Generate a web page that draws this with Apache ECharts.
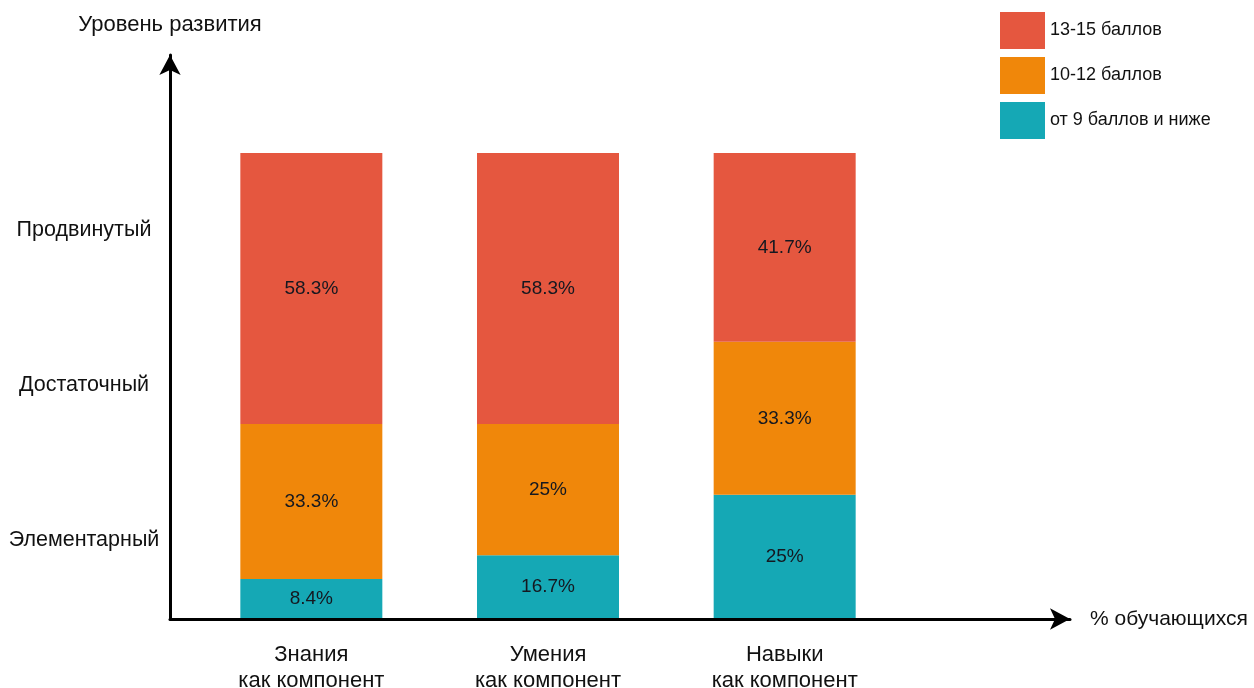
<!DOCTYPE html>
<html><head><meta charset="utf-8">
<script src="https://cdn.jsdelivr.net/npm/echarts@6/dist/echarts.min.js"></script>
<style>html,body{margin:0;padding:0;background:#fff}#c{width:1254px;height:688px}</style>
</head><body><div id="c"></div>
<script>
const categories = ['Знания\nкак компонент', 'Умения\nкак компонент', 'Навыки\nкак компонент'];
const levels = ['Элементарный', 'Достаточный', 'Продвинутый'];
const seriesNames = ['от 9 баллов и ниже', '10-12 баллов', '13-15 баллов'];
// bar heights as drawn (% of bar)
const lowValues = [8.4, 13.5, 26.5];
const midValues = [33.3, 28.2, 32.9];
const highValues = [58.3, 58.3, 40.6];
// printed labels
const lowLabels = ['8.4%', '16.7%', '25%'];
const midLabels = ['33.3%', '25%', '33.3%'];
const highLabels = ['58.3%', '58.3%', '41.7%'];
const colors = ['#15A8B5', '#F0870A', '#E5573F'];

const FONT = 'Liberation Sans';
const chart = echarts.init(document.getElementById('c'));
function mk(name, vals, labels, color) {
  return {
    name: name, type: 'bar', stack: 's', xAxisIndex: 0, yAxisIndex: 0,
    barWidth: 142, data: vals,
    itemStyle: { color: color },
    label: { show: true, position: 'inside', color: '#151820', fontFamily: FONT, fontSize: 19,
      formatter: p => labels[p.dataIndex] }
  };
}
chart.setOption({
  animation: false,
  textStyle: { fontFamily: FONT },
  legend: {
    orient: 'vertical', left: 995, top: 7, itemWidth: 45, itemHeight: 37, itemGap: 8,
    icon: 'rect',
    data: ['13-15 баллов', '10-12 баллов', 'от 9 баллов и ниже'],
    textStyle: { fontFamily: FONT, fontSize: 18, color: '#111' }
  },
  grid: [
    { left: 193, right: 351, top: 153, bottom: 70, outerBoundsMode: 'none' },
    { left: 170, right: 184, top: 55, bottom: 69, outerBoundsMode: 'none' }
  ],
  xAxis: [
    { type: 'category', gridIndex: 0, data: categories,
      axisLine: { show: false }, axisTick: { show: false },
      axisLabel: { margin: 24, fontSize: 22, lineHeight: 26, color: '#111', fontFamily: FONT } },
    { type: 'value', gridIndex: 1, min: 0, max: 1,
      axisLine: { show: true, lineStyle: { color: '#000', width: 3 }, symbol: ['none', 'arrow'], symbolSize: [16, 20] },
      axisTick: { show: false }, axisLabel: { show: false }, splitLine: { show: false },
      name: '% обучающихся', nameLocation: 'end', nameGap: 20,
      nameTextStyle: { fontSize: 21, color: '#111', fontFamily: FONT } }
  ],
  yAxis: [
    { type: 'value', gridIndex: 0, min: 0, max: 100, show: false },
    { type: 'category', gridIndex: 0, data: levels, position: 'left', offset: 23,
      axisLine: { show: false }, axisTick: { show: false },
      axisLabel: { align: 'center', margin: 86, fontSize: 21.5, color: '#111', fontFamily: FONT } },
    { type: 'value', gridIndex: 1, min: 0, max: 1,
      axisLine: { show: true, lineStyle: { color: '#000', width: 3 }, symbol: ['none', 'arrow'], symbolSize: [16, 20] },
      axisTick: { show: false }, axisLabel: { show: false }, splitLine: { show: false },
      name: 'Уровень развития', nameLocation: 'end', nameGap: 19,
      nameTextStyle: { fontSize: 22, color: '#111', fontFamily: FONT } }
  ],
  series: [
    mk(seriesNames[0], lowValues, lowLabels, colors[0]),
    mk(seriesNames[1], midValues, midLabels, colors[1]),
    mk(seriesNames[2], highValues, highLabels, colors[2])
  ]
});
</script></body></html>
